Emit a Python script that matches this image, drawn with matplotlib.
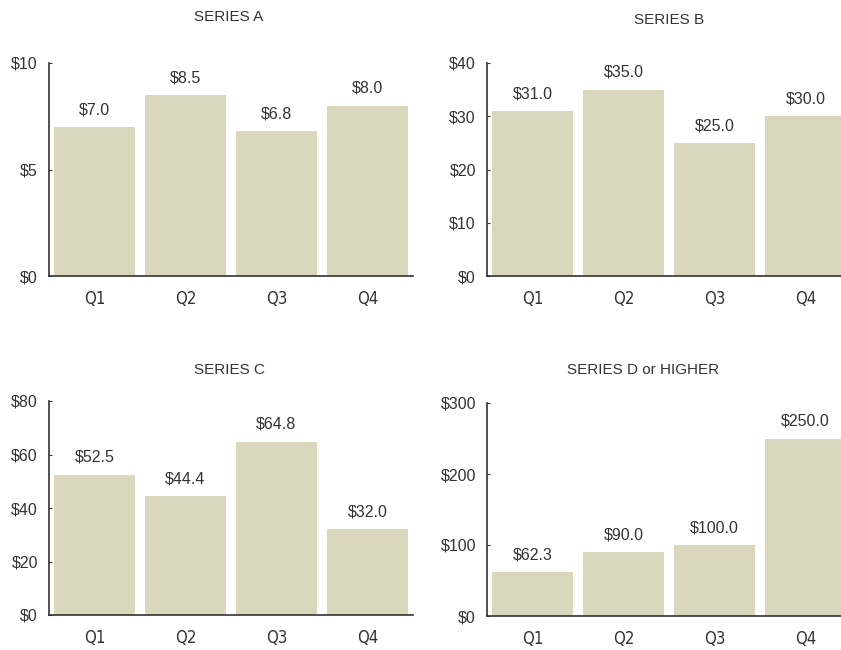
import matplotlib
matplotlib.use("Agg")
import matplotlib.pyplot as plt

# data
quarters = ["Q1", "Q2", "Q3", "Q4"]
titles = ["SERIES A", "SERIES B", "SERIES C", "SERIES D or HIGHER"]
series_a = [7.0, 8.5, 6.8, 8.0]
series_b = [31.0, 35.0, 25.0, 30.0]
series_c = [52.5, 44.4, 64.8, 32.0]
series_d = [62.3, 90.0, 100.0, 250.0]
y_ticks = [[0, 5, 10], [0, 10, 20, 30, 40], [0, 20, 40, 60, 80], [0, 100, 200, 300]]

plt.rcParams['font.family'] = ['Liberation Sans', 'DejaVu Sans']
bar_color = '#dbd7bc'
text_color = '#333333'

fig = plt.figure(figsize=(8.41, 6.5), dpi=100)

# axes rectangles in figure fractions (left, bottom, width, height)
rects = [
    (49 / 841, 1 - 276 / 650, 364 / 841, 213 / 650),
    (487 / 841, 1 - 276 / 650, 364 / 841, 213 / 650),
    (49 / 841, 1 - 615 / 650, 364 / 841, 214 / 650),
    (487 / 841, 1 - 616 / 650, 364 / 841, 213 / 650),
]
title_pos = [(229, 17), (669, 20), (229, 370), (643, 370)]

all_values = [series_a, series_b, series_c, series_d]

for rect, values, ticks, title, tpos in zip(rects, all_values, y_ticks, titles, title_pos):
    ax = fig.add_axes(rect)
    x = range(len(quarters))
    ax.bar(x, values, width=0.9, color=bar_color, zorder=2)
    ax.set_xlim(-0.5, 3.5)
    ax.set_ylim(0, ticks[-1])
    ax.set_yticks(ticks)
    ax.set_yticklabels(['$' + str(t) for t in ticks], fontsize=11.5, color=text_color)
    ax.set_xticks(list(x))
    ax.set_xticklabels(quarters, fontsize=12, color=text_color,
                       family='DejaVu Sans', stretch='condensed')
    ax.tick_params(axis='x', length=0, pad=10)
    ax.tick_params(axis='y', length=2, direction='in', pad=8, color=text_color)
    for side in ['top', 'right']:
        ax.spines[side].set_visible(False)
    for side in ['left', 'bottom']:
        ax.spines[side].set_color(text_color)
        ax.spines[side].set_linewidth(1.2)
    for xi, v in zip(x, values):
        ax.annotate('${:.1f}'.format(v), (xi, v), xytext=(0, 7), textcoords='offset points',
                    ha='center', va='bottom', fontsize=11.5, color=text_color)
    fig.text(tpos[0] / 841, 1 - tpos[1] / 650, title, ha='center', va='center',
             fontsize=11, color=text_color)

plt.savefig('out.png', dpi=100)
